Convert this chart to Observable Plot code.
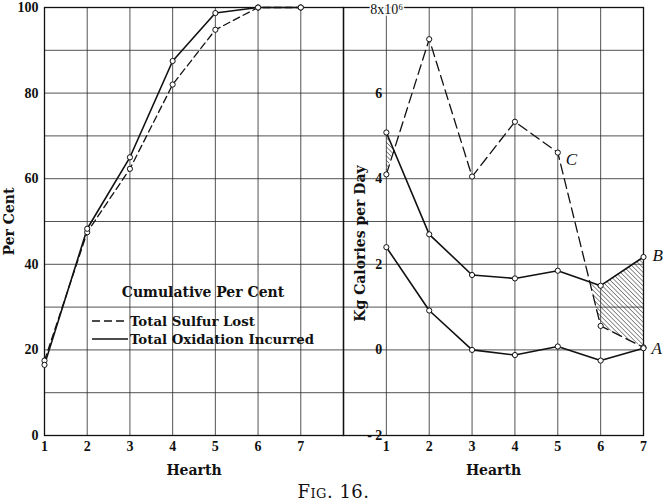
<!DOCTYPE html>
<html>
<head>
<meta charset="utf-8">
<script src="https://cdn.jsdelivr.net/npm/d3@7"></script>
<script src="https://cdn.jsdelivr.net/npm/@observablehq/plot@0.6"></script>
<style>
  body { margin: 0; background: #fff; }
  #wrap { position: relative; width: 667px; height: 504px; overflow: hidden; background: #fff; }
  #wrap svg { position: absolute; top: 0; overflow: visible; }
  #fig { position: absolute; top: 481px; left: 0; width: 667px; text-align: center;
         font-family: "DejaVu Serif", serif; font-size: 18px; font-variant: small-caps; letter-spacing: 0.5px; color: #111; }
</style>
</head>
<body>
<div id="wrap"><div id="fig">Fig. 16.</div></div>
<script>
// ---------- data ----------
const hearths = [1, 2, 3, 4, 5, 6, 7];
// Left panel: cumulative per cent
const sulfurLost        = [17.5, 47.5, 62.3, 82.0, 94.8, 100, 100];
const oxidationIncurred = [16.5, 48.3, 65.0, 87.5, 98.7, 100, 100];
const leftYTicks = [0, 20, 40, 60, 80, 100];
const legendTitle = "Cumulative Per Cent";
const legendLabels = ["Total Sulfur Lost", "Total Oxidation Incurred"];
// Right panel: Kg calories per day (x10^6)
const curveC = [4.10, 7.26, 4.05, 5.33, 4.61, 0.56, 0.06];
const curveB = [5.08, 2.70, 1.75, 1.67, 1.85, 1.50, 2.17];
const curveA = [2.40, 0.92, 0.00, -0.12, 0.08, -0.25, 0.04];
const rightYTicks = [-2, 0, 2, 4, 6];
const rightYTickLabels = ["- 2", "0", "2", "4", "6"];
const rightTopLabel = "8x10\u2076";

// ---------- tables ----------
const leftData = hearths.map((h, i) => ({h, sulfur: sulfurLost[i], oxid: oxidationIncurred[i]}));
const rightData = hearths.map((h, i) => ({h, a: curveA[i], b: curveB[i], c: curveC[i]}));
// hatched region where B lies above C (crossing points interpolated from the data)
const hatch = [];
for (let i = 0; i < hearths.length; i++) {
  hatch.push({h: hearths[i], c: curveC[i], b: curveB[i]});
  if (i < hearths.length - 1) {
    const d0 = curveB[i] - curveC[i], d1 = curveB[i + 1] - curveC[i + 1];
    if (d0 * d1 < 0) {
      const t = d0 / (d0 - d1);
      const v = curveC[i] + t * (curveC[i + 1] - curveC[i]);
      hatch.push({h: hearths[i] + t * (hearths[i + 1] - hearths[i]), c: v, b: v});
    }
  }
}

const SERIF = "'DejaVu Serif', serif";
const NUM = "'Liberation Serif', serif";
const gridStyle = {stroke: "#2a2a2a", strokeOpacity: 0.9, strokeWidth: 0.9};
const H = 480, MT = 7, MB = 45;

// ---------- left panel ----------
const left = Plot.plot({
  width: 343, height: H, marginLeft: 44, marginRight: 0, marginTop: MT, marginBottom: MB,
  style: {fontFamily: NUM, fontSize: "14px", fontWeight: "bold", color: "#111", background: "transparent"},
  x: {domain: [1, 8], axis: null},
  y: {domain: [0, 100], axis: null},
  marks: [
    Plot.gridX(d3.range(1, 9), gridStyle),
    Plot.gridY(d3.range(0, 101, 10), gridStyle),
    Plot.frame({stroke: "#111", strokeWidth: 1.3}),
    Plot.axisX(hearths, {tickSize: 0, tickPadding: 6, label: null, fontSize: 14, fontFamily: NUM, fontWeight: "bold"}),
    Plot.axisY(leftYTicks, {tickSize: 0, tickPadding: 6, label: null, fontSize: 14, fontFamily: NUM, fontWeight: "bold"}),
    Plot.text(["Hearth"], {frameAnchor: "bottom", lineAnchor: "middle", textAnchor: "middle", dy: 35,
      fontSize: 14, fontFamily: SERIF, fontWeight: "bold"}),
    Plot.text(["Per Cent"], {frameAnchor: "left", textAnchor: "middle", lineAnchor: "middle", rotate: -90, dx: -35,
      fontSize: 14, fontFamily: SERIF, fontWeight: "bold"}),
    Plot.line(leftData, {x: "h", y: "sulfur", stroke: "#111", strokeWidth: 1.3, strokeDasharray: "7,4"}),
    Plot.line(leftData, {x: "h", y: "oxid", stroke: "#111", strokeWidth: 1.6}),
    Plot.dot(leftData, {x: "h", y: "sulfur", r: 2.6, fill: "white", stroke: "#111", strokeWidth: 1}),
    Plot.dot(leftData, {x: "h", y: "oxid", r: 2.6, fill: "white", stroke: "#111", strokeWidth: 1})
  ]
});

// legend (layout only)
{
  const g = d3.select(left).append("g").attr("font-family", SERIF).attr("font-weight", "bold")
    .attr("fill", "#111").attr("text-anchor", "start");
  g.append("text").attr("x", 203).attr("y", 292).attr("dy", "0.35em").attr("text-anchor", "middle")
    .attr("font-size", 14).text(legendTitle);
  const rows = [{y: 321, dash: "8,4", w: 1.3}, {y: 339, dash: null, w: 1.6}];
  rows.forEach((r, i) => {
    g.append("line").attr("x1", 92).attr("x2", 128).attr("y1", r.y).attr("y2", r.y)
      .attr("stroke", "#111").attr("stroke-width", r.w).attr("stroke-dasharray", r.dash);
    g.append("text").attr("x", 130).attr("y", r.y).attr("dy", "0.35em").attr("font-size", 13.3)
      .attr("text-anchor", "start").text(legendLabels[i]);
  });
}

// ---------- right panel ----------
const right = Plot.plot({
  width: 324, height: H, marginLeft: 0, marginRight: 24, marginTop: MT, marginBottom: MB,
  style: {fontFamily: NUM, fontSize: "14px", fontWeight: "bold", color: "#111", background: "transparent"},
  x: {domain: [0, 7], axis: null},
  y: {domain: [-2, 8], axis: null},
  marks: [
    Plot.gridX(d3.range(0, 8), gridStyle),
    Plot.gridY(d3.range(-2, 9, 1), gridStyle),
    Plot.frame({stroke: "#111", strokeWidth: 1.3}),
    Plot.areaY(hatch, {x: "h", y1: "c", y2: d => Math.max(d.b, d.c), fill: "url(#hatch)"}),
    Plot.axisX(hearths, {tickSize: 0, tickPadding: 6, label: null, fontSize: 14, fontFamily: NUM, fontWeight: "bold"}),
    Plot.text(rightYTicks, {x: () => 1, y: d => d, text: (d, i) => rightYTickLabels[i], textAnchor: "end", dx: -4,
      fontSize: 14, fontFamily: NUM, fontWeight: "bold"}),
    Plot.text([8], {x: () => 1, y: d => d, text: () => rightTopLabel, textAnchor: "start", dx: -16, dy: 2,
      fontSize: 14, fontFamily: NUM, fontWeight: "normal", stroke: "white", strokeWidth: 3, fill: "#111"}),
    Plot.text(["Hearth"], {frameAnchor: "bottom", lineAnchor: "middle", textAnchor: "middle", dy: 35,
      fontSize: 14, fontFamily: SERIF, fontWeight: "bold"}),
    Plot.text(["Kg Calories per Day"], {frameAnchor: "left", textAnchor: "middle", lineAnchor: "middle", rotate: -90, dx: 17, dy: 22,
      fontSize: 14, fontFamily: SERIF, fontWeight: "bold"}),
    Plot.line(rightData, {x: "h", y: "c", stroke: "#111", strokeWidth: 1.3, strokeDasharray: "10,5"}),
    Plot.line(rightData, {x: "h", y: "b", stroke: "#111", strokeWidth: 1.6}),
    Plot.line(rightData, {x: "h", y: "a", stroke: "#111", strokeWidth: 1.6}),
    Plot.dot(rightData, {x: "h", y: "c", r: 2.6, fill: "white", stroke: "#111", strokeWidth: 1}),
    Plot.dot(rightData, {x: "h", y: "b", r: 2.6, fill: "white", stroke: "#111", strokeWidth: 1}),
    Plot.dot(rightData, {x: "h", y: "a", r: 2.6, fill: "white", stroke: "#111", strokeWidth: 1}),
    Plot.text([rightData[4]], {x: "h", y: "c", text: () => "C", textAnchor: "start", dx: 8, dy: 7,
      fontSize: 17, fontFamily: NUM, fontStyle: "italic", fontWeight: "normal"}),
    Plot.text([rightData[6]], {x: "h", y: "b", text: () => "B", textAnchor: "start", dx: 9, dy: -1,
      fontSize: 17, fontFamily: NUM, fontStyle: "italic", fontWeight: "normal"}),
    Plot.text([rightData[6]], {x: "h", y: "a", text: () => "A", textAnchor: "start", dx: 8, dy: 0,
      fontSize: 17, fontFamily: NUM, fontStyle: "italic", fontWeight: "normal"})
  ]
});
d3.select(right).insert("defs", ":first-child").html(
  '<pattern id="hatch" width="3.2" height="3.2" patternUnits="userSpaceOnUse" patternTransform="rotate(-45)">' +
  '<line x1="0" y1="0" x2="0" y2="3.2" stroke="#222" stroke-width="1"/></pattern>');

const wrap = document.getElementById("wrap");
left.style.left = "0px";
right.style.left = "343px";
wrap.appendChild(left);
wrap.appendChild(right);
</script>
</body>
</html>
